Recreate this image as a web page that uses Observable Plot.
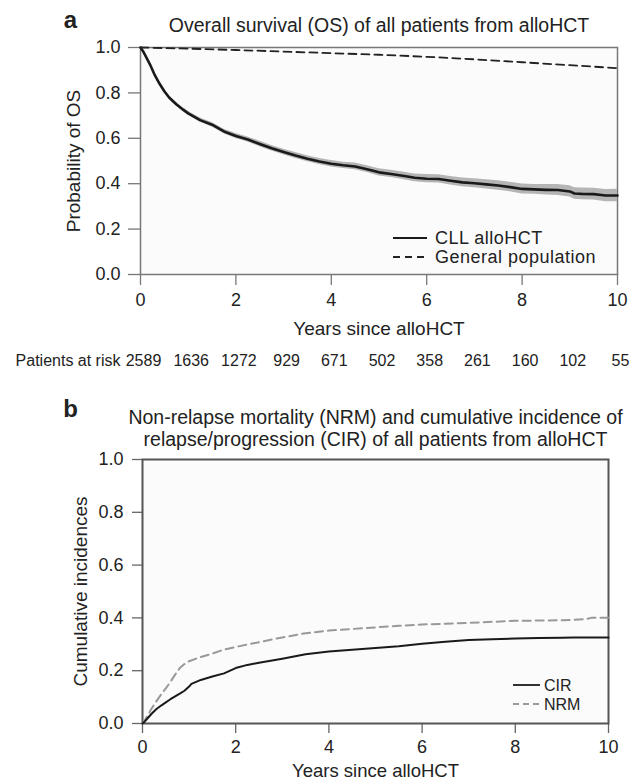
<!DOCTYPE html>
<html>
<head>
<meta charset="utf-8">
<script src="https://cdn.jsdelivr.net/npm/d3@7"></script>
<script src="https://cdn.jsdelivr.net/npm/@observablehq/plot@0.6"></script>
<style>
  body { margin: 0; background: white; }
  #wrap { position: relative; width: 630px; height: 783px; overflow: hidden; font-family: "Liberation Sans", Arial, sans-serif; }
  #wrap svg.plotsvg { display: block; }
  .legend { position: absolute; left: 0; top: 0; }
</style>
</head>
<body>
<div id="wrap"></div>
<script>
// ---------- Panel a: Overall survival ----------
const osYears = [0, 0.05, 0.1, 0.2, 0.3, 0.4, 0.5, 0.6, 0.75, 0.9, 1.0, 1.25, 1.5, 1.75, 2.0, 2.25, 2.5, 2.75, 3.0, 3.25, 3.5, 3.75, 4.0, 4.25, 4.5, 4.75, 5.0, 5.25, 5.5, 5.75, 6.0, 6.25, 6.5, 6.75, 7.0, 7.25, 7.5, 7.75, 8.0, 8.25, 8.5, 8.75, 9.0, 9.1, 9.25, 9.5, 9.75, 10.0];
const osProb  = [1.0, 0.985, 0.965, 0.925, 0.878, 0.84, 0.807, 0.78, 0.75, 0.725, 0.71, 0.68, 0.66, 0.63, 0.61, 0.595, 0.575, 0.556, 0.54, 0.524, 0.51, 0.498, 0.488, 0.481, 0.476, 0.464, 0.45, 0.443, 0.435, 0.426, 0.422, 0.421, 0.413, 0.406, 0.402, 0.397, 0.392, 0.385, 0.377, 0.375, 0.373, 0.372, 0.366, 0.357, 0.355, 0.354, 0.348, 0.348];
const osLower = [1.0, 0.983, 0.962, 0.921, 0.873, 0.834, 0.800, 0.773, 0.742, 0.717, 0.701, 0.671, 0.650, 0.620, 0.599, 0.584, 0.563, 0.544, 0.528, 0.511, 0.497, 0.485, 0.474, 0.467, 0.461, 0.449, 0.434, 0.427, 0.418, 0.409, 0.404, 0.403, 0.394, 0.387, 0.382, 0.377, 0.371, 0.364, 0.355, 0.353, 0.350, 0.348, 0.341, 0.332, 0.329, 0.328, 0.321, 0.320];
const osUpper = [1.0, 0.987, 0.968, 0.929, 0.883, 0.846, 0.814, 0.787, 0.758, 0.733, 0.719, 0.689, 0.670, 0.640, 0.621, 0.606, 0.587, 0.568, 0.552, 0.537, 0.523, 0.511, 0.502, 0.495, 0.491, 0.479, 0.466, 0.459, 0.452, 0.443, 0.440, 0.439, 0.432, 0.425, 0.422, 0.417, 0.413, 0.406, 0.399, 0.397, 0.396, 0.396, 0.391, 0.382, 0.381, 0.380, 0.375, 0.376];

const genYears = [0, 1, 2, 3, 4, 5, 6, 7, 8, 9, 10];
const genProb  = [1.0, 0.995, 0.989, 0.982, 0.975, 0.968, 0.959, 0.948, 0.935, 0.922, 0.909];

const riskYears  = [0, 1, 2, 3, 4, 5, 6, 7, 8, 9, 10];
const riskCounts = [2589, 1636, 1272, 929, 671, 502, 358, 261, 160, 102, 55];

const xTicks = [0, 2, 4, 6, 8, 10];
const yTicks = [0, 0.2, 0.4, 0.6, 0.8, 1.0];

// ---------- Panel b: NRM and CIR ----------
const nrmYears = [0, 0.05, 0.1, 0.2, 0.3, 0.4, 0.5, 0.6, 0.7, 0.8, 0.9, 1.0, 1.25, 1.5, 1.75, 2.0, 2.5, 3.0, 3.5, 4.0, 4.5, 5.0, 5.5, 6.0, 6.5, 7.0, 7.5, 8.0, 8.5, 9.0, 9.5, 9.65, 10.0];
const nrmValue = [0, 0.012, 0.028, 0.058, 0.085, 0.11, 0.133, 0.158, 0.185, 0.21, 0.225, 0.236, 0.252, 0.265, 0.28, 0.29, 0.308, 0.326, 0.342, 0.352, 0.358, 0.364, 0.37, 0.375, 0.378, 0.381, 0.385, 0.389, 0.39, 0.391, 0.395, 0.401, 0.401];

const cirYears = [0, 0.05, 0.1, 0.2, 0.3, 0.4, 0.5, 0.6, 0.7, 0.8, 0.9, 1.0, 1.05, 1.25, 1.5, 1.75, 2.0, 2.25, 2.5, 3.0, 3.5, 4.0, 4.5, 5.0, 5.5, 6.0, 6.5, 7.0, 7.5, 8.0, 8.5, 9.0, 9.25, 10.0];
const cirValue = [0, 0.008, 0.018, 0.038, 0.055, 0.068, 0.08, 0.092, 0.103, 0.113, 0.124, 0.14, 0.15, 0.165, 0.178, 0.19, 0.21, 0.222, 0.23, 0.245, 0.262, 0.273, 0.279, 0.286, 0.293, 0.302, 0.31, 0.316, 0.319, 0.322, 0.324, 0.325, 0.326, 0.326];

const FONT = "'Liberation Sans', Arial, Helvetica, sans-serif";
const TEXT = "#222";

const os = osYears.map((x, i) => ({x, y: osProb[i], lo: osLower[i], hi: osUpper[i]}));
const gen = genYears.map((x, i) => ({x, y: genProb[i]}));
const risk = riskYears.map((x, i) => ({x, n: String(riskCounts[i])}));
const nrm = nrmYears.map((x, i) => ({x, y: nrmValue[i]}));
const cir = cirYears.map((x, i) => ({x, y: cirValue[i]}));

const wrap = document.getElementById("wrap");
const C = {textAnchor: "middle", lineAnchor: "middle", fill: TEXT};

const plotA = Plot.plot({
  width: 630, height: 390,
  marginLeft: 140, marginRight: 13, marginTop: 47, marginBottom: 116,
  style: {fontFamily: FONT, fontSize: "18px", color: TEXT, background: "white", overflow: "visible"},
  x: {domain: [0, 10]},
  y: {domain: [0, 1]},
  marks: [
    Plot.frame({fill: "#fbfbfb", stroke: null}),
    Plot.axisX({ticks: xTicks, tickSize: 11, tickPadding: 8, fontSize: 18, label: null, stroke: "#777", strokeWidth: 1.3}),
    Plot.axisY({ticks: yTicks, tickSize: 12, tickPadding: 8, fontSize: 18, tickFormat: d3.format(".1f"), label: null, stroke: "#777", strokeWidth: 1.3}),
    Plot.frame({stroke: "#777", strokeWidth: 1.5}),
    Plot.areaY(os, {x: "x", y1: "lo", y2: "hi", fill: "#b5b5b5"}),
    Plot.line(os, {x: "x", y: "y", stroke: "#1a1a1a", strokeWidth: 2.6}),
    Plot.line(gen, {x: "x", y: "y", stroke: "#222", strokeWidth: 1.8, strokeDasharray: "8,5"}),
    Plot.text(["a"], {...C, frameAnchor: "top-left", dx: -70, dy: -27, fontSize: 24, fontWeight: "bold"}),
    Plot.text(["Overall survival (OS) of all patients from alloHCT"], {...C, frameAnchor: "top", dy: -22, fontSize: 19.5}),
    Plot.text(["Probability of OS"], {...C, frameAnchor: "left", dx: -67, rotate: -90, fontSize: 19}),
    Plot.text(["Years since alloHCT"], {...C, frameAnchor: "bottom", dy: 54, fontSize: 19}),
    Plot.text(risk, {...C, x: "x", text: "n", frameAnchor: "bottom", dx: 3, dy: 86, fontSize: 16}),
    Plot.text(["Patients at risk"], {...C, textAnchor: "end", frameAnchor: "bottom-left", dx: -20, dy: 86, fontSize: 16})
  ]
});
plotA.classList.add("plotsvg");
wrap.appendChild(plotA);

const plotB = Plot.plot({
  width: 630, height: 393,
  marginLeft: 142, marginRight: 22, marginTop: 69, marginBottom: 60,
  style: {fontFamily: FONT, fontSize: "18px", color: TEXT, background: "white", overflow: "visible"},
  x: {domain: [0, 10]},
  y: {domain: [0, 1]},
  marks: [
    Plot.frame({fill: "#fbfbfb", stroke: null}),
    Plot.axisX({ticks: xTicks, tickSize: 10, tickPadding: 7, fontSize: 18, label: null, stroke: "#666", strokeWidth: 1.3}),
    Plot.axisY({ticks: yTicks, tickSize: 10, tickPadding: 9, fontSize: 18, tickFormat: d3.format(".1f"), label: null, stroke: "#666", strokeWidth: 1.3}),
    Plot.frame({stroke: "#555", strokeWidth: 2}),
    Plot.line(nrm, {x: "x", y: "y", stroke: "#999", strokeWidth: 2, strokeDasharray: "8,5"}),
    Plot.line(cir, {x: "x", y: "y", stroke: "#1a1a1a", strokeWidth: 2}),
    Plot.text(["b"], {...C, frameAnchor: "top-left", dx: -72, dy: -50, fontSize: 24, fontWeight: "bold"}),
    Plot.text(["Non-relapse mortality (NRM) and cumulative incidence of\nrelapse/progression (CIR) of all patients from alloHCT"], {...C, frameAnchor: "top", dy: -31.5, fontSize: 19.5, lineHeight: 1.1}),
    Plot.text(["Cumulative incidences"], {...C, frameAnchor: "left", dx: -62, rotate: -90, fontSize: 19}),
    Plot.text(["Years since alloHCT"], {...C, frameAnchor: "bottom", dy: 48, fontSize: 18.5})
  ]
});
plotB.classList.add("plotsvg");
wrap.appendChild(plotB);

// ---------- Legends (overlay) ----------
const NS = "http://www.w3.org/2000/svg";
function legend(items, fontSize, spacing) {
  const svg = document.createElementNS(NS, "svg");
  svg.setAttribute("class", "legend");
  svg.setAttribute("width", 630);
  svg.setAttribute("height", 783);
  for (const it of items) {
    const l = document.createElementNS(NS, "line");
    l.setAttribute("x1", it.x1); l.setAttribute("x2", it.x2);
    l.setAttribute("y1", it.y); l.setAttribute("y2", it.y);
    l.setAttribute("stroke", it.stroke);
    l.setAttribute("stroke-width", it.sw);
    if (it.dash) l.setAttribute("stroke-dasharray", it.dash);
    svg.appendChild(l);
    const t = document.createElementNS(NS, "text");
    t.setAttribute("x", it.tx); t.setAttribute("y", it.y);
    t.setAttribute("dy", "0.36em");
    t.setAttribute("font-family", FONT);
    t.setAttribute("font-size", fontSize);
    t.setAttribute("letter-spacing", spacing);
    t.setAttribute("fill", TEXT);
    t.textContent = it.label;
    svg.appendChild(t);
  }
  wrap.appendChild(svg);
}
legend([
  {label: "CLL alloHCT", x1: 393, x2: 427, tx: 435, y: 238, stroke: "#1a1a1a", sw: 2},
  {label: "General population", x1: 393, x2: 428, tx: 435, y: 257, stroke: "#222", sw: 1.8, dash: "7,5"}
], 18, 0.5);
legend([
  {label: "CIR", x1: 513, x2: 540, tx: 544, y: 685, stroke: "#1a1a1a", sw: 1.8},
  {label: "NRM", x1: 513, x2: 541, tx: 544, y: 704, stroke: "#999", sw: 1.8, dash: "6,4"}
], 16, 0);
</script>
</body>
</html>
